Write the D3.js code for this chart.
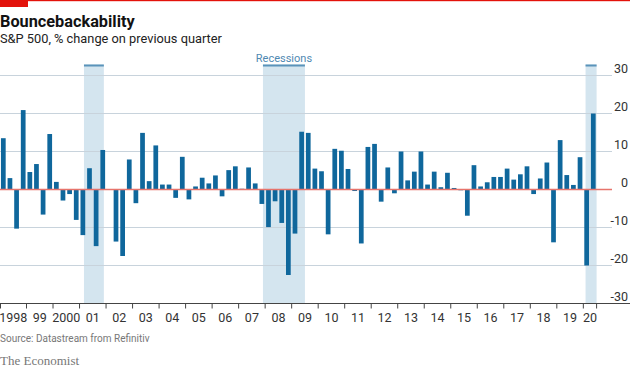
<!DOCTYPE html>
<html>
<head>
<meta charset="utf-8">
<script src="https://cdn.jsdelivr.net/npm/d3@7"></script>
<style>
  html, body { margin: 0; padding: 0; background: #fff; }
  svg { display: block; }
  text { font-family: Roboto, "Noto Sans", sans-serif; }
</style>
</head>
<body>
<svg id="chart" width="630" height="371"></svg>
<script>
// ---- Data ----
const startYear = 1998;
const endYear = 2020.5;
// S&P 500, % change on previous quarter, 1998Q1 .. 2020Q2
const values = [
  13.5, 3.0, -10.3, 20.9,    // 1998
  4.6, 6.7, -6.6, 14.6,      // 1999
  2.0, -2.9, -1.2, -8.0,     // 2000
  -12.0, 5.6, -14.9, 10.4,   // 2001
  -0.1, -13.7, -17.5, 7.9,   // 2002
  -3.6, 14.9, 2.2, 11.6,     // 2003
  1.3, 1.3, -2.2, 8.6,       // 2004
  -2.6, 0.8, 3.1, 1.6,       // 2005
  3.7, -1.8, 5.1, 6.1,       // 2006
  0.2, 5.8, 1.6, -3.8,       // 2007
  -9.9, -3.1, -8.8, -22.5,   // 2008
  -11.6, 15.2, 14.9, 5.5,    // 2009
  4.8, -11.8, 10.7, 10.2,    // 2010
  5.4, -0.4, -14.2, 11.2,    // 2011
  12.0, -3.2, 5.8, -1.0,     // 2012
  10.0, 2.4, 4.7, 10.0,      // 2013
  1.3, 4.7, 0.6, 4.4,        // 2014
  0.4, -0.2, -6.9, 6.4,      // 2015
  0.8, 1.9, 3.3, 3.3,        // 2016
  5.5, 2.6, 4.0, 6.1,        // 2017
  -1.2, 2.9, 7.1, -13.9,     // 2018
  13.0, 3.8, 1.2, 8.5,       // 2019
  -20.0, 20.0                // 2020
];
const recessionStarts = [2001 + 2/12, 2007 + 11/12, 2020 + 1/12];
const recessionEnds   = [2001 + 11/12, 2009.5, 2020.5];
const years = d3.range(1998, 2021);
const yearLabels = ["1998","99","2000","01","02","03","04","05","06","07","08","09",
                    "10","11","12","13","14","15","16","17","18","19","20"];
const yTicks = [-30, -20, -10, 0, 10, 20, 30];
const yTickLabels = ["-30", "-20", "-10", "0", "10", "20", "30"];

// ---- Layout ----
const svg = d3.select("#chart");
const W = 630;
const plotLeft = 0, plotRight = 596.6;
const yTop = 75.5, yBottom = 303.5;

const x = d3.scaleLinear().domain([startYear, endYear]).range([plotLeft, plotRight]);
const y = d3.scaleLinear().domain([-30, 30]).range([yBottom, yTop]);

const qStep = x(startYear + 0.25) - x(startYear);
const barPad = 0.95;
const barW = qStep - 2 * barPad;

// Top red rule & block
svg.append("rect").attr("x", 0).attr("y", 0).attr("width", W).attr("height", 1.2).attr("fill", "#e3120b");
svg.append("rect").attr("x", 0).attr("y", 0).attr("width", 28).attr("height", 7).attr("fill", "#e3120b");

// Title & subtitle
svg.append("text").attr("x", 0).attr("y", 27)
  .attr("font-size", 16.3).attr("font-weight", 700).attr("fill", "#121212")
  .text("Bouncebackability");
svg.append("text").attr("x", 0).attr("y", 43)
  .attr("font-size", 12.8).attr("fill", "#222")
  .text("S&P 500, % change on previous quarter");

// Recession shading
const rec = recessionStarts.map((s, i) => ({ s, e: recessionEnds[i] }));
const capY = 64.5;
svg.append("g").selectAll("rect").data(rec).join("rect")
  .attr("x", d => x(d.s)).attr("width", d => x(d.e) - x(d.s))
  .attr("y", capY).attr("height", yBottom - capY)
  .attr("fill", "#d4e5ef");
svg.append("g").selectAll("rect").data(rec).join("rect")
  .attr("x", d => x(d.s)).attr("width", d => x(d.e) - x(d.s))
  .attr("y", capY).attr("height", 2)
  .attr("fill", "#5a93ba");
svg.append("text")
  .attr("x", (x(rec[1].s) + x(rec[1].e)) / 2).attr("y", 61.5)
  .attr("text-anchor", "middle").attr("font-size", 11).attr("fill", "#4f89b2")
  .text("Recessions");

// Gridlines (excluding bottom and zero)
svg.append("g").selectAll("line").data(yTicks.filter(t => t !== 0 && t !== -30)).join("line")
  .attr("x1", 0).attr("x2", 612)
  .attr("y1", d => y(d)).attr("y2", d => y(d))
  .attr("stroke", "#c8d3dc").attr("stroke-width", 1);

// Y labels (right side, above the line)
svg.append("g").selectAll("text").data(yTicks).join("text")
  .attr("x", 628).attr("y", d => y(d) - 3)
  .attr("text-anchor", "end").attr("font-size", 12.5).attr("fill", "#333")
  .text((d, i) => yTickLabels[i]);

// Bars
const data = values.map((v, i) => ({ t: startYear + i / 4, v }));
svg.append("g").selectAll("rect").data(data).join("rect")
  .attr("x", d => x(d.t) + barPad)
  .attr("width", barW)
  .attr("y", d => y(Math.max(0, d.v)))
  .attr("height", d => Math.abs(y(d.v) - y(0)))
  .attr("fill", "#0f679c");

// Zero line
svg.append("line")
  .attr("x1", 0).attr("x2", 612)
  .attr("y1", y(0)).attr("y2", y(0))
  .attr("stroke", "#e7746c").attr("stroke-width", 1.3);

// X axis baseline
svg.append("line")
  .attr("x1", 0).attr("x2", W)
  .attr("y1", yBottom).attr("y2", yBottom)
  .attr("stroke", "#444").attr("stroke-width", 1);

// X ticks at year boundaries + end
const tickPos = years.concat([endYear]);
svg.append("g").selectAll("line").data(tickPos).join("line")
  .attr("x1", d => x(d) + (d === startYear ? 0.5 : 0)).attr("x2", d => x(d) + (d === startYear ? 0.5 : 0))
  .attr("y1", yBottom).attr("y2", yBottom + 5)
  .attr("stroke", "#444").attr("stroke-width", 1);

// X labels centered in year
svg.append("g").selectAll("text").data(years).join("text")
  .attr("x", d => (x(d) + x(Math.min(d + 1, endYear))) / 2)
  .attr("y", 322)
  .attr("text-anchor", "middle").attr("font-size", 12.5).attr("fill", "#333")
  .text((d, i) => yearLabels[i]);

// Source & branding
svg.append("text").attr("x", 0).attr("y", 342)
  .attr("font-size", 10).attr("fill", "#777")
  .text("Source: Datastream from Refinitiv");
svg.append("text").attr("x", 0).attr("y", 365)
  .attr("font-size", 13).attr("fill", "#777")
  .style("font-family", "'Liberation Serif', 'DejaVu Serif', serif")
  .text("The Economist");
</script>
</body>
</html>
